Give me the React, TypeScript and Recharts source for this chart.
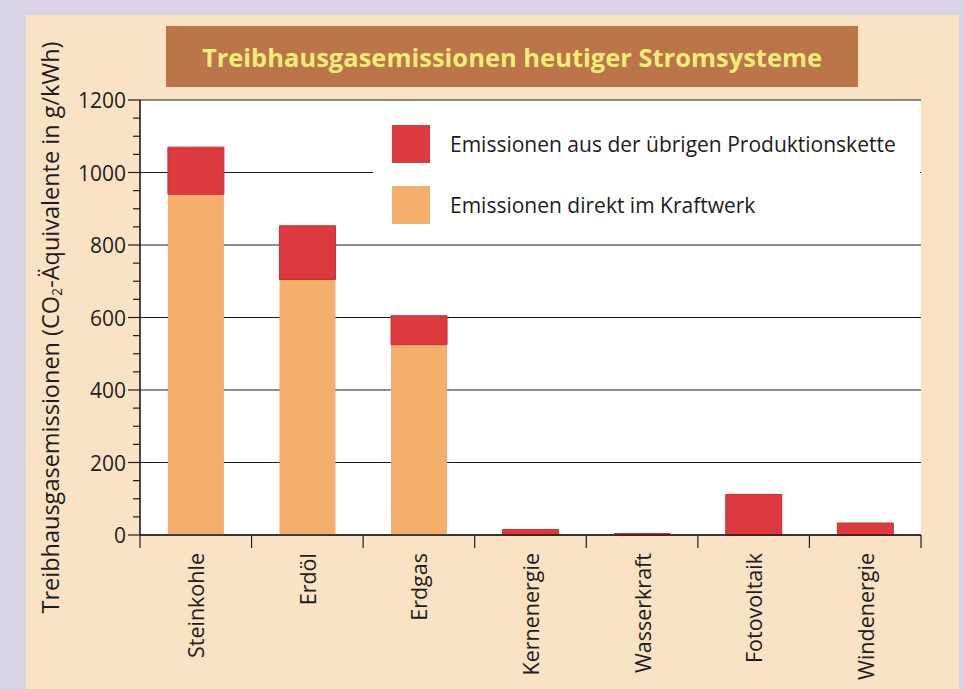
import { BarChart, Bar, XAxis, YAxis, CartesianGrid, Legend } from "recharts";

const categories = ["Steinkohle", "Erdöl", "Erdgas", "Kernenergie", "Wasserkraft", "Fotovoltaik", "Windenergie"];
const direktKraftwerk = [940, 705, 525, 0, 0, 0, 0];
const uebrigeKette = [130, 148, 80, 15, 4, 112, 33];
const majorTicks = [0, 200, 400, 600, 800, 1000, 1200];
const allTicks = [0, 50, 100, 150, 200, 250, 300, 350, 400, 450, 500, 550, 600, 650, 700, 750, 800, 850, 900, 950, 1000, 1050, 1100, 1150, 1200];

const data = categories.map((name, i) => ({
  name,
  direkt: direktKraftwerk[i],
  kette: uebrigeKette[i],
}));

const FONT = "'Open Sans', 'DejaVu Sans', sans-serif";
const INK = "#1f1b1c";
const RED = "#dc3a3f";
const ORANGE = "#f3ae6c";

const YTick = (props: any) => {
  const { x, y, payload } = props;
  const major = payload.value % 200 === 0;
  return (
    <g>
      <line x1={x - (major ? 12 : 7)} x2={x} y1={y} y2={y} stroke={INK} strokeWidth={1.2} />
      {major && (
        <text x={x - 14} y={y} textAnchor="end" dominantBaseline="central" fontSize={21} fontFamily={FONT} fill={INK}>
          {payload.value}
        </text>
      )}
    </g>
  );
};

const XTick = (props: any) => {
  const { x, y, payload, index } = props;
  const half = payload.offset || 55.8;
  return (
    <g>
      <line x1={x - half} x2={x - half} y1={y} y2={y + 13} stroke={INK} strokeWidth={1.2} />
      {index === categories.length - 1 && (
        <line x1={x + half} x2={x + half} y1={y} y2={y + 13} stroke={INK} strokeWidth={1.2} />
      )}
      <text
        x={x}
        y={y + 18}
        transform={`rotate(-90, ${x}, ${y + 18})`}
        textAnchor="end"
        dominantBaseline="central"
        fontSize={21.5}
        fontFamily={FONT}
        fill={INK}
      >
        {payload.value}
      </text>
    </g>
  );
};

const YLabel = (props: any) => {
  const { viewBox } = props;
  const cx = 50;
  const cy = viewBox.y + viewBox.height / 2 + 10;
  return (
    <text
      x={cx}
      y={cy}
      transform={`rotate(-90, ${cx}, ${cy})`}
      textAnchor="middle"
      dominantBaseline="central"
      fontSize={23.5}
      fontFamily={FONT}
      fill={INK}
    >
      Treibhausgasemissionen (CO
      <tspan fontSize={14} dy={6}>2</tspan>
      <tspan dy={-6}>-Äquivalente in g/kWh)</tspan>
    </text>
  );
};

const legendItems = [
  { label: "Emissionen aus der übrigen Produktionskette", color: RED },
  { label: "Emissionen direkt im Kraftwerk", color: ORANGE },
];

const LegendBox = () => (
  <div style={{ position: "relative", width: "100%", height: "100%" }}>
    {legendItems.map((item, i) => (
      <div
        key={item.label}
        style={{ position: "absolute", left: 19, top: 21 + i * 61, display: "flex", alignItems: "center" }}
      >
        <div style={{ width: 38, height: 38, background: item.color }} />
        <span style={{ marginLeft: 20, fontSize: 21, fontFamily: FONT, color: INK, whiteSpace: "nowrap" }}>
          {item.label}
        </span>
      </div>
    ))}
  </div>
);

export default function App() {
  return (
    <div style={{ position: "absolute", left: 0, top: 0, width: 964, height: 689, background: "#d9d5e6", overflow: "hidden" }}>
      <div style={{ position: "absolute", left: 26, top: 15, width: 933, height: 674, background: "#fae3c4" }} />
      <div
        style={{
          position: "absolute",
          left: 166,
          top: 26,
          width: 692,
          height: 61,
          background: "#bb7548",
          display: "flex",
          alignItems: "center",
          justifyContent: "center",
          color: "#f5ec7a",
          fontFamily: FONT,
          fontWeight: 700,
          fontSize: 25.5,
        }}
      >
        Treibhausgasemissionen heutiger Stromsysteme
      </div>
      <div style={{ position: "absolute", left: 0, top: 0 }}>
        <BarChart
          width={964}
          height={689}
          data={data}
          margin={{ top: 100, right: 43, bottom: 0, left: 0 }}
          barCategoryGap="25%"
        >
          <CartesianGrid vertical={false} horizontalValues={majorTicks} stroke={INK} strokeWidth={1.2} fill="#ffffff" fillOpacity={1} />
          <XAxis
            dataKey="name"
            height={154}
            axisLine={{ stroke: INK, strokeWidth: 1.6 }}
            tickLine={false}
            tickSize={0}
            tickMargin={0}
            interval={0}
            tick={<XTick />}
          />
          <YAxis
            width={140}
            domain={[0, 1200]}
            ticks={allTicks}
            interval={0}
            axisLine={{ stroke: INK, strokeWidth: 1.6 }}
            tickLine={false}
            tickSize={0}
            tickMargin={0}
            tick={<YTick />}
            label={<YLabel />}
          />
          <YAxis
            yAxisId="right"
            orientation="right"
            width={0}
            domain={[0, 1200]}
            tick={false}
            tickLine={false}
            axisLine={{ stroke: INK, strokeWidth: 1.6 }}
          />
          <Legend
            layout="vertical"
            align="center"
            verticalAlign="middle"
            content={() => <LegendBox />}
            wrapperStyle={{ left: 373, top: 104, width: 547, height: 128, background: "#ffffff" }}
          />
          <Bar dataKey="direkt" stackId="a" fill={ORANGE} isAnimationActive={false} />
          <Bar dataKey="kette" stackId="a" fill={RED} stroke="#c92f34" strokeWidth={1} isAnimationActive={false} />
        </BarChart>
      </div>
    </div>
  );
}
